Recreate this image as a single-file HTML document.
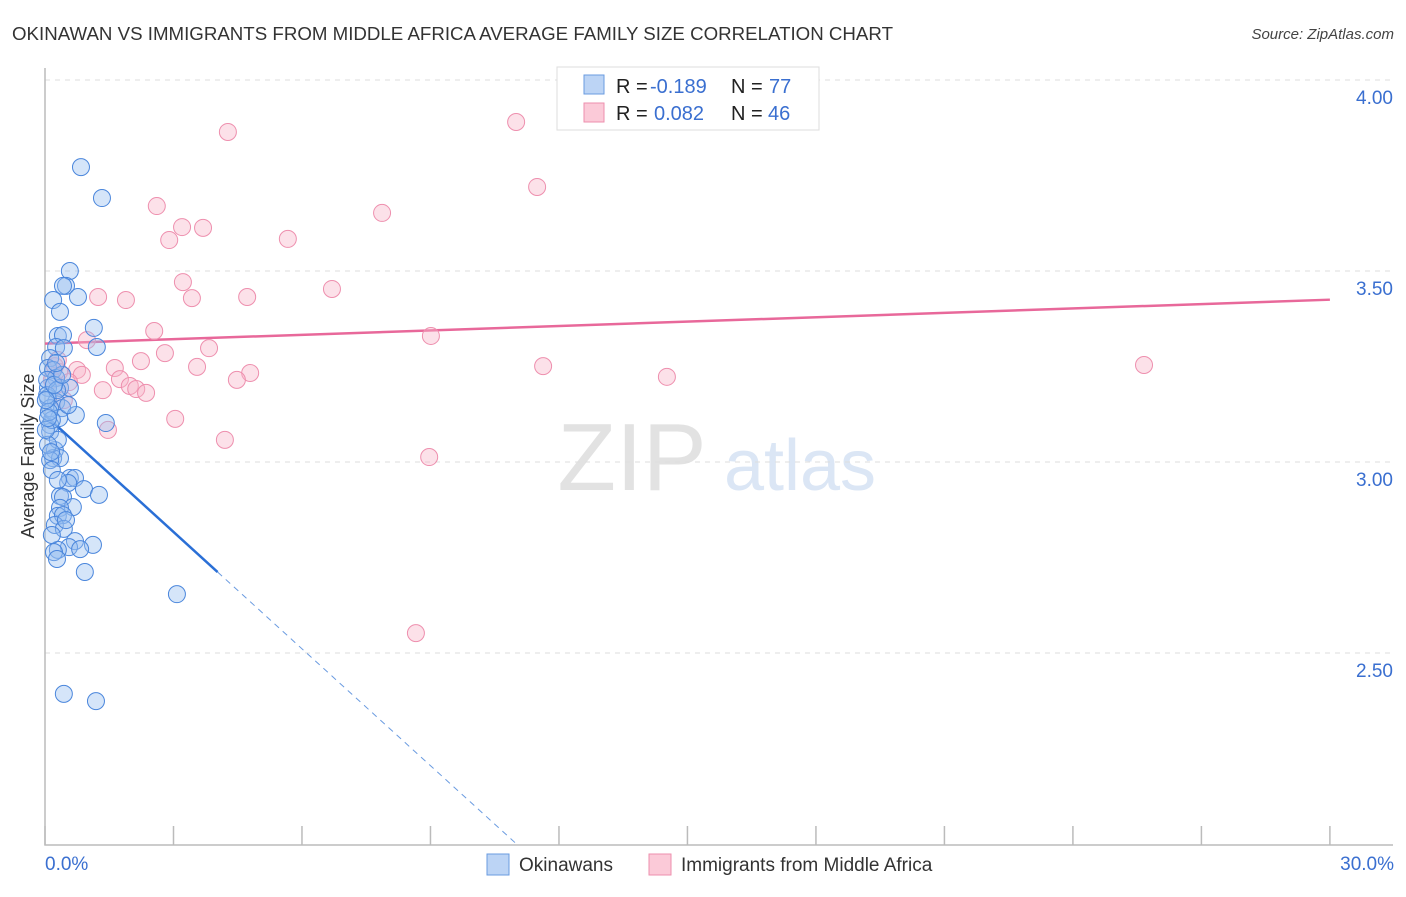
<!DOCTYPE html>
<html><head><meta charset="utf-8"><style>
body{margin:0;background:#fff;width:1406px;height:892px;overflow:hidden;font-family:"Liberation Sans",sans-serif}
svg text{font-family:"Liberation Sans",sans-serif}
</style></head><body>
<svg id="chart" width="1406" height="892" xmlns="http://www.w3.org/2000/svg">
<text x="12" y="40" font-size="18" fill="#333" textLength="881" lengthAdjust="spacingAndGlyphs">OKINAWAN VS IMMIGRANTS FROM MIDDLE AFRICA AVERAGE FAMILY SIZE CORRELATION CHART</text>
<text x="1394" y="39" font-size="15" fill="#444" font-style="italic" text-anchor="end">Source: ZipAtlas.com</text>
<text transform="translate(34,456) rotate(-90)" font-size="18" fill="#333" text-anchor="middle">Average Family Size</text>
<g><text x="632" y="490" font-size="96" fill="#e2e2e2" font-family="Liberation Serif" text-anchor="middle">ZIP</text><text x="800" y="490" font-size="72" fill="#dbe6f5" text-anchor="middle">atlas</text></g>
<g id="grid"></g><g id="axes"></g><g id="lines"></g><g id="pts"></g>
<g>
<rect x="557" y="67" width="262" height="63" fill="#fff" stroke="#ddd"/>
<rect x="584" y="75" width="20" height="19" fill="#bcd4f5" stroke="#6a9be0"/>
<rect x="584" y="103" width="20" height="19" fill="#fbcad8" stroke="#ee8fae"/>
<text x="616" y="93" font-size="20" fill="#222">R =</text><text x="650" y="93" font-size="20" fill="#3a6fd0">-0.189</text>
<text x="731" y="93" font-size="20" fill="#222">N =</text><text x="769" y="93" font-size="20" fill="#3a6fd0">77</text>
<text x="616" y="120" font-size="20" fill="#222">R =</text><text x="654" y="120" font-size="20" fill="#3a6fd0">0.082</text>
<text x="731" y="120" font-size="20" fill="#222">N =</text><text x="768" y="120" font-size="20" fill="#3a6fd0">46</text>
</g>
<g>
<rect x="487" y="854" width="22" height="21" fill="#bcd4f5" stroke="#6a9be0"/>
<text x="519" y="871" font-size="19" fill="#333">Okinawans</text>
<rect x="649" y="854" width="22" height="21" fill="#fbcad8" stroke="#ee8fae"/>
<text x="681" y="871" font-size="19" fill="#333">Immigrants from Middle Africa</text>
</g>
<text x="45" y="870" font-size="19" fill="#3a6fd0">0.0%</text>
<text x="1394" y="870" font-size="19" fill="#3a6fd0" text-anchor="end">30.0%</text>
</svg>
<script>
const yTicks=[4.0,3.5,3.0,2.5];
const yTickLabels=["4.00","3.50","3.00","2.50"];
const xTicks=[0,3,6,9,12,15,18,21,24,27,30];
const blueX=[0.84,1.33,0.58,0.49,0.42,0.77,0.19,0.35,1.14,0.30,0.42,1.21,0.26,0.44,0.12,0.07,0.19,0.26,0.35,0.58,0.07,0.07,0.26,0.40,0.12,0.72,0.33,0.12,1.42,0.12,0.23,0.19,0.35,0.12,0.58,0.70,0.54,0.91,1.26,0.35,0.42,0.65,0.35,0.30,0.42,0.23,0.44,0.70,1.12,0.56,0.82,0.30,0.21,0.28,0.93,3.08,0.44,1.19,0.05,0.05,0.16,0.30,0.07,0.16,0.02,0.28,0.54,0.09,0.21,0.02,0.40,0.14,0.26,0.07,0.49,0.16,0.30];
const blueY=[3.772,3.691,3.500,3.461,3.461,3.432,3.424,3.393,3.351,3.330,3.332,3.301,3.301,3.298,3.272,3.246,3.241,3.220,3.194,3.194,3.194,3.168,3.157,3.141,3.141,3.123,3.115,3.097,3.102,3.079,3.031,3.010,3.010,3.005,2.958,2.958,2.945,2.929,2.914,2.911,2.908,2.882,2.880,2.859,2.861,2.835,2.825,2.793,2.783,2.777,2.772,2.770,2.764,2.746,2.712,2.654,2.393,2.374,3.215,3.175,3.110,3.058,3.045,2.979,3.084,3.188,3.149,3.131,3.202,3.162,3.228,3.026,3.259,3.115,2.848,2.809,2.953];
const pinkX=[4.27,11.00,11.49,2.61,7.87,3.20,3.69,2.90,5.67,3.22,6.70,1.24,1.89,3.43,4.72,2.55,9.01,0.98,3.83,2.80,2.24,11.63,25.66,3.55,1.63,0.75,0.33,4.79,0.86,14.52,1.75,4.48,0.56,1.98,2.13,1.35,2.36,3.04,1.47,4.20,8.97,8.66,0.23,0.16,0.44,0.30];
const pinkY=[3.864,3.890,3.720,3.670,3.652,3.615,3.613,3.581,3.584,3.471,3.453,3.432,3.424,3.429,3.432,3.343,3.330,3.319,3.298,3.285,3.264,3.251,3.254,3.249,3.246,3.241,3.236,3.233,3.228,3.223,3.217,3.215,3.209,3.199,3.191,3.188,3.181,3.113,3.084,3.058,3.013,2.552,3.251,3.215,3.162,3.267];
const blueTrend=[3.123,-0.102];
const pinkTrend=[3.31,0.00383];
const X=v=>45+v*42.83, Y=v=>462-(v-3)*382;
const NS="http://www.w3.org/2000/svg";
function mk(p,t,a){const e=document.createElementNS(NS,t);for(const k in a)e.setAttribute(k,a[k]);document.getElementById(p).appendChild(e);return e;}
yTicks.forEach((t,i)=>{
 const g=mk('grid','line',{x1:45,x2:1393,y1:Y(t),y2:Y(t),stroke:'#ddd','stroke-dasharray':'5,5'});
 
 
 const tx=mk('grid','text',{x:1393,y:Y(t)+24,'font-size':19,fill:'#3a6fd0','text-anchor':'end'});
 tx.textContent=yTickLabels[i];
 
 
});
const ax=mk('axes','path',{d:'M45,68V845H1393',stroke:'#bbb',fill:'none','stroke-width':1.5});


xTicks.forEach(t=>{
 const l=mk('axes','line',{x1:X(t),x2:X(t),y1:826,y2:845,stroke:'#bbb','stroke-width':1.5});
 
 
});
const bx1=4.03,bx2=(2-blueTrend[0])/blueTrend[1];
const b1=mk('lines','line',{x1:X(0),y1:Y(blueTrend[0]),x2:X(bx1),y2:Y(blueTrend[0]+blueTrend[1]*bx1),stroke:'#2a6fd6','stroke-width':2.5});


const b2=mk('lines','line',{x1:X(bx1),y1:Y(blueTrend[0]+blueTrend[1]*bx1),x2:X(bx2),y2:Y(2),stroke:'#6a9be0','stroke-width':1,'stroke-dasharray':'6,5'});


const p1=mk('lines','line',{x1:X(0),y1:Y(pinkTrend[0]),x2:X(30),y2:Y(pinkTrend[0]+pinkTrend[1]*30),stroke:'#e8689a','stroke-width':2.5});


pinkX.forEach((x,i)=>{
 const c=mk('pts','circle',{cx:X(x),cy:Y(pinkY[i]),r:8.5,fill:'rgba(248,180,200,0.4)',stroke:'#ee8fae','stroke-width':1});
 
 
});
blueX.forEach((x,i)=>{
 const c=mk('pts','circle',{cx:X(x),cy:Y(blueY[i]),r:8.5,fill:'rgba(150,190,240,0.4)',stroke:'#4a86dc','stroke-width':1});
 
 
});
</script>
</body></html>
